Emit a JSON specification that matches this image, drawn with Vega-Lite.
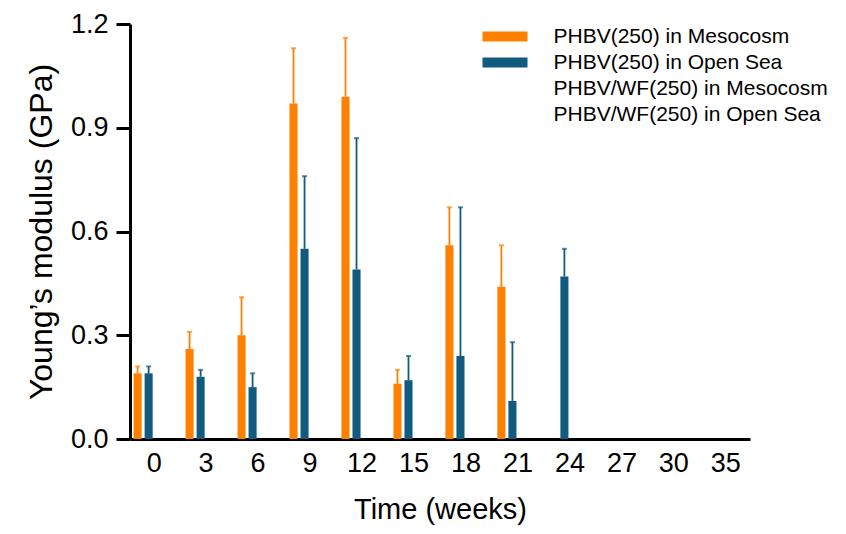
{
  "$schema": "https://vega.github.io/schema/vega-lite/v6.json",
  "width": 620,
  "height": 415,
  "autosize": {"type": "none"},
  "padding": {"left": 130, "top": 24, "right": 96, "bottom": 95},
  "background": "white",
  "config": {
    "font": "Liberation Sans",
    "view": {"stroke": null},
    "axis": {"labelColor": "black", "titleColor": "black", "domainColor": "black", "tickColor": "black", "labelFont": "Liberation Sans", "titleFont": "Liberation Sans", "titleFontWeight": "normal", "grid": false}
  },
  "data": {
    "values": [
      {"week": "0", "series": "PHBV(250) in Mesocosm", "value": 0.19, "upper": 0.21},
      {"week": "0", "series": "PHBV(250) in Open Sea", "value": 0.19, "upper": 0.21},
      {"week": "3", "series": "PHBV(250) in Mesocosm", "value": 0.26, "upper": 0.31},
      {"week": "3", "series": "PHBV(250) in Open Sea", "value": 0.18, "upper": 0.20},
      {"week": "6", "series": "PHBV(250) in Mesocosm", "value": 0.30, "upper": 0.41},
      {"week": "6", "series": "PHBV(250) in Open Sea", "value": 0.15, "upper": 0.19},
      {"week": "9", "series": "PHBV(250) in Mesocosm", "value": 0.97, "upper": 1.13},
      {"week": "9", "series": "PHBV(250) in Open Sea", "value": 0.55, "upper": 0.76},
      {"week": "12", "series": "PHBV(250) in Mesocosm", "value": 0.99, "upper": 1.16},
      {"week": "12", "series": "PHBV(250) in Open Sea", "value": 0.49, "upper": 0.87},
      {"week": "15", "series": "PHBV(250) in Mesocosm", "value": 0.16, "upper": 0.20},
      {"week": "15", "series": "PHBV(250) in Open Sea", "value": 0.17, "upper": 0.24},
      {"week": "18", "series": "PHBV(250) in Mesocosm", "value": 0.56, "upper": 0.67},
      {"week": "18", "series": "PHBV(250) in Open Sea", "value": 0.24, "upper": 0.67},
      {"week": "21", "series": "PHBV(250) in Mesocosm", "value": 0.44, "upper": 0.56},
      {"week": "21", "series": "PHBV(250) in Open Sea", "value": 0.11, "upper": 0.28},
      {"week": "24", "series": "PHBV(250) in Open Sea", "value": 0.47, "upper": 0.55}
    ]
  },
  "encoding": {
    "x": {
      "field": "week", "type": "nominal",
      "scale": {"domain": ["0","3","6","9","12","15","18","21","24","27","30","35"], "paddingInner": 0.15, "paddingOuter": 0.04},
      "axis": {"title": "Time (weeks)", "labelAngle": 0, "ticks": false, "tickSize": 0, "labelPadding": 11, "labelFontSize": 27, "titleFontSize": 29, "titlePadding": 19, "domainWidth": 3}
    },
    "xOffset": {
      "field": "series", "type": "nominal",
      "scale": {"domain": ["PHBV(250) in Mesocosm", "PHBV(250) in Open Sea", "PHBV/WF(250) in Mesocosm", "PHBV/WF(250) in Open Sea"], "paddingInner": 0.27, "paddingOuter": 0.135}
    },
    "color": {
      "field": "series", "type": "nominal",
      "scale": {"domain": ["PHBV(250) in Mesocosm", "PHBV(250) in Open Sea", "PHBV/WF(250) in Mesocosm", "PHBV/WF(250) in Open Sea"], "range": ["#FF8000", "#115A80", "transparent", "transparent"]},
      "legend": {
        "title": null, "orient": "none", "legendX": 364.5, "legendY": 2, "padding": 0,
        "symbolType": "M-2.25,-0.5L2.25,-0.5L2.25,0.5L-2.25,0.5Z", "symbolSize": 400, "symbolStrokeWidth": 0, "symbolOpacity": 1,
        "labelFontSize": 21, "labelFont": "Liberation Sans", "labelColor": "black", "labelOffset": 38, "rowPadding": 4, "labelLimit": 400
      }
    }
  },
  "layer": [
    {
      "mark": {"type": "bar", "opacity": 1},
      "encoding": {
        "y": {
          "field": "value", "type": "quantitative",
          "scale": {"domain": [0, 1.2], "nice": false, "zero": true},
          "axis": {"title": "Young’s modulus (GPa)", "values": [0, 0.3, 0.6, 0.9, 1.2], "format": ".1f", "tickSize": 14, "tickWidth": 3, "domainWidth": 3, "labelPadding": 8, "labelFontSize": 27, "titleFontSize": 32, "titlePadding": 12}
        }
      }
    },
    {
      "mark": {"type": "rule", "strokeWidth": 1.8},
      "encoding": {
        "y": {"field": "value", "type": "quantitative"},
        "y2": {"field": "upper"}
      }
    },
    {
      "mark": {"type": "tick", "size": 5, "thickness": 2},
      "encoding": {
        "y": {"field": "upper", "type": "quantitative"}
      }
    }
  ]
}
